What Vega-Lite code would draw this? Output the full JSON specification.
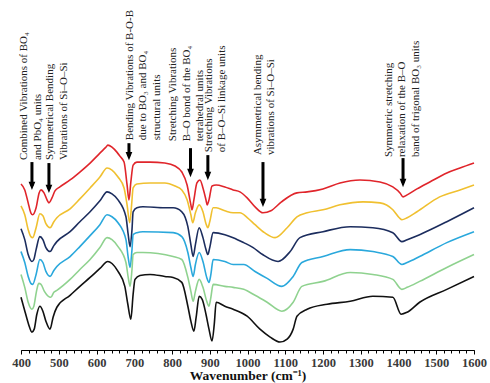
{
  "$schema": "https://vega.github.io/schema/vega-lite/v6.json",
  "width": 453,
  "height": 349,
  "autosize": {"type": "none"},
  "padding": {"left": 21, "top": 1, "right": 16, "bottom": 33},
  "config": {"view": {"stroke": null}},
  "datasets": {
    "spectra": [
      {"s": "G1", "w": 400, "t": 167}, {"s": "G1", "w": 410, "t": 161}, {"s": "G1", "w": 419, "t": 148}, {"s": "G1", "w": 426, "t": 138},
      {"s": "G1", "w": 431, "t": 136}, {"s": "G1", "w": 440, "t": 143}, {"s": "G1", "w": 448, "t": 158}, {"s": "G1", "w": 453, "t": 161},
      {"s": "G1", "w": 461, "t": 158}, {"s": "G1", "w": 469, "t": 151}, {"s": "G1", "w": 474, "t": 148}, {"s": "G1", "w": 482, "t": 153},
      {"s": "G1", "w": 490, "t": 160}, {"s": "G1", "w": 503, "t": 164}, {"s": "G1", "w": 530, "t": 171}, {"s": "G1", "w": 556, "t": 179},
      {"s": "G1", "w": 583, "t": 188}, {"s": "G1", "w": 609, "t": 198}, {"s": "G1", "w": 625, "t": 204}, {"s": "G1", "w": 630, "t": 206},
      {"s": "G1", "w": 641, "t": 204}, {"s": "G1", "w": 654, "t": 199}, {"s": "G1", "w": 662, "t": 195}, {"s": "G1", "w": 673, "t": 189},
      {"s": "G1", "w": 681, "t": 166}, {"s": "G1", "w": 686, "t": 151}, {"s": "G1", "w": 691, "t": 169}, {"s": "G1", "w": 697, "t": 186},
      {"s": "G1", "w": 707, "t": 189}, {"s": "G1", "w": 742, "t": 189}, {"s": "G1", "w": 781, "t": 188}, {"s": "G1", "w": 808, "t": 185},
      {"s": "G1", "w": 826, "t": 179}, {"s": "G1", "w": 840, "t": 166}, {"s": "G1", "w": 850, "t": 146}, {"s": "G1", "w": 853, "t": 141},
      {"s": "G1", "w": 858, "t": 151}, {"s": "G1", "w": 866, "t": 168}, {"s": "G1", "w": 874, "t": 171}, {"s": "G1", "w": 882, "t": 163},
      {"s": "G1", "w": 890, "t": 151}, {"s": "G1", "w": 893, "t": 146}, {"s": "G1", "w": 898, "t": 151}, {"s": "G1", "w": 906, "t": 165},
      {"s": "G1", "w": 917, "t": 166}, {"s": "G1", "w": 940, "t": 164}, {"s": "G1", "w": 962, "t": 161}, {"s": "G1", "w": 980, "t": 159},
      {"s": "G1", "w": 999, "t": 153}, {"s": "G1", "w": 1020, "t": 144}, {"s": "G1", "w": 1041, "t": 138}, {"s": "G1", "w": 1062, "t": 140},
      {"s": "G1", "w": 1090, "t": 149}, {"s": "G1", "w": 1131, "t": 158}, {"s": "G1", "w": 1158, "t": 159}, {"s": "G1", "w": 1200, "t": 162},
      {"s": "G1", "w": 1245, "t": 168}, {"s": "G1", "w": 1298, "t": 171}, {"s": "G1", "w": 1351, "t": 169}, {"s": "G1", "w": 1385, "t": 164},
      {"s": "G1", "w": 1404, "t": 158}, {"s": "G1", "w": 1412, "t": 154}, {"s": "G1", "w": 1423, "t": 156}, {"s": "G1", "w": 1449, "t": 162},
      {"s": "G1", "w": 1483, "t": 169}, {"s": "G1", "w": 1528, "t": 178}, {"s": "G1", "w": 1563, "t": 183}, {"s": "G1", "w": 1600, "t": 188},

      {"s": "G2", "w": 400, "t": 145}, {"s": "G2", "w": 410, "t": 136}, {"s": "G2", "w": 419, "t": 121}, {"s": "G2", "w": 426, "t": 114},
      {"s": "G2", "w": 431, "t": 113}, {"s": "G2", "w": 440, "t": 123}, {"s": "G2", "w": 450, "t": 137}, {"s": "G2", "w": 458, "t": 135},
      {"s": "G2", "w": 466, "t": 127}, {"s": "G2", "w": 477, "t": 123}, {"s": "G2", "w": 487, "t": 129}, {"s": "G2", "w": 495, "t": 133},
      {"s": "G2", "w": 530, "t": 142}, {"s": "G2", "w": 556, "t": 152}, {"s": "G2", "w": 583, "t": 163}, {"s": "G2", "w": 609, "t": 174},
      {"s": "G2", "w": 628, "t": 183}, {"s": "G2", "w": 641, "t": 181}, {"s": "G2", "w": 657, "t": 174}, {"s": "G2", "w": 673, "t": 163},
      {"s": "G2", "w": 681, "t": 146}, {"s": "G2", "w": 688, "t": 128}, {"s": "G2", "w": 693, "t": 146}, {"s": "G2", "w": 697, "t": 163},
      {"s": "G2", "w": 707, "t": 167}, {"s": "G2", "w": 742, "t": 168}, {"s": "G2", "w": 781, "t": 168}, {"s": "G2", "w": 808, "t": 165},
      {"s": "G2", "w": 826, "t": 161}, {"s": "G2", "w": 840, "t": 151}, {"s": "G2", "w": 850, "t": 136}, {"s": "G2", "w": 855, "t": 128},
      {"s": "G2", "w": 862, "t": 138}, {"s": "G2", "w": 872, "t": 146}, {"s": "G2", "w": 882, "t": 139}, {"s": "G2", "w": 890, "t": 127},
      {"s": "G2", "w": 895, "t": 123}, {"s": "G2", "w": 900, "t": 129}, {"s": "G2", "w": 909, "t": 143}, {"s": "G2", "w": 917, "t": 143},
      {"s": "G2", "w": 940, "t": 140}, {"s": "G2", "w": 962, "t": 138}, {"s": "G2", "w": 980, "t": 138}, {"s": "G2", "w": 1000, "t": 133},
      {"s": "G2", "w": 1020, "t": 126}, {"s": "G2", "w": 1045, "t": 118}, {"s": "G2", "w": 1073, "t": 113}, {"s": "G2", "w": 1105, "t": 123},
      {"s": "G2", "w": 1131, "t": 134}, {"s": "G2", "w": 1158, "t": 138}, {"s": "G2", "w": 1200, "t": 141}, {"s": "G2", "w": 1245, "t": 146},
      {"s": "G2", "w": 1306, "t": 149}, {"s": "G2", "w": 1351, "t": 148}, {"s": "G2", "w": 1385, "t": 141}, {"s": "G2", "w": 1402, "t": 133},
      {"s": "G2", "w": 1409, "t": 131}, {"s": "G2", "w": 1423, "t": 133}, {"s": "G2", "w": 1449, "t": 139}, {"s": "G2", "w": 1509, "t": 154},
      {"s": "G2", "w": 1563, "t": 161}, {"s": "G2", "w": 1600, "t": 166},

      {"s": "G3", "w": 400, "t": 122}, {"s": "G3", "w": 410, "t": 111}, {"s": "G3", "w": 419, "t": 96}, {"s": "G3", "w": 429, "t": 89},
      {"s": "G3", "w": 434, "t": 91}, {"s": "G3", "w": 440, "t": 101}, {"s": "G3", "w": 450, "t": 114}, {"s": "G3", "w": 458, "t": 111},
      {"s": "G3", "w": 466, "t": 103}, {"s": "G3", "w": 477, "t": 99}, {"s": "G3", "w": 487, "t": 105}, {"s": "G3", "w": 495, "t": 109},
      {"s": "G3", "w": 530, "t": 119}, {"s": "G3", "w": 556, "t": 129}, {"s": "G3", "w": 583, "t": 139}, {"s": "G3", "w": 609, "t": 150},
      {"s": "G3", "w": 628, "t": 159}, {"s": "G3", "w": 641, "t": 157}, {"s": "G3", "w": 657, "t": 151}, {"s": "G3", "w": 678, "t": 134},
      {"s": "G3", "w": 684, "t": 116}, {"s": "G3", "w": 689, "t": 104}, {"s": "G3", "w": 694, "t": 121}, {"s": "G3", "w": 697, "t": 139},
      {"s": "G3", "w": 707, "t": 143}, {"s": "G3", "w": 723, "t": 144}, {"s": "G3", "w": 781, "t": 143}, {"s": "G3", "w": 803, "t": 143},
      {"s": "G3", "w": 826, "t": 139}, {"s": "G3", "w": 842, "t": 124}, {"s": "G3", "w": 850, "t": 106}, {"s": "G3", "w": 856, "t": 94},
      {"s": "G3", "w": 862, "t": 106}, {"s": "G3", "w": 872, "t": 123}, {"s": "G3", "w": 882, "t": 113}, {"s": "G3", "w": 890, "t": 101},
      {"s": "G3", "w": 895, "t": 96}, {"s": "G3", "w": 900, "t": 103}, {"s": "G3", "w": 909, "t": 118}, {"s": "G3", "w": 940, "t": 116},
      {"s": "G3", "w": 962, "t": 113}, {"s": "G3", "w": 990, "t": 108}, {"s": "G3", "w": 1015, "t": 103}, {"s": "G3", "w": 1040, "t": 96},
      {"s": "G3", "w": 1081, "t": 89}, {"s": "G3", "w": 1113, "t": 99}, {"s": "G3", "w": 1139, "t": 113}, {"s": "G3", "w": 1200, "t": 119},
      {"s": "G3", "w": 1272, "t": 124}, {"s": "G3", "w": 1332, "t": 123}, {"s": "G3", "w": 1385, "t": 118}, {"s": "G3", "w": 1409, "t": 109},
      {"s": "G3", "w": 1423, "t": 111}, {"s": "G3", "w": 1456, "t": 116}, {"s": "G3", "w": 1528, "t": 129}, {"s": "G3", "w": 1600, "t": 143},

      {"s": "G4", "w": 400, "t": 99}, {"s": "G4", "w": 410, "t": 88}, {"s": "G4", "w": 419, "t": 74}, {"s": "G4", "w": 426, "t": 67},
      {"s": "G4", "w": 431, "t": 66}, {"s": "G4", "w": 440, "t": 76}, {"s": "G4", "w": 450, "t": 91}, {"s": "G4", "w": 458, "t": 88},
      {"s": "G4", "w": 466, "t": 79}, {"s": "G4", "w": 477, "t": 74}, {"s": "G4", "w": 487, "t": 80}, {"s": "G4", "w": 495, "t": 84},
      {"s": "G4", "w": 530, "t": 94}, {"s": "G4", "w": 556, "t": 104}, {"s": "G4", "w": 583, "t": 115}, {"s": "G4", "w": 609, "t": 126},
      {"s": "G4", "w": 628, "t": 136}, {"s": "G4", "w": 641, "t": 134}, {"s": "G4", "w": 657, "t": 128}, {"s": "G4", "w": 678, "t": 111},
      {"s": "G4", "w": 684, "t": 93}, {"s": "G4", "w": 689, "t": 83}, {"s": "G4", "w": 694, "t": 101}, {"s": "G4", "w": 697, "t": 116},
      {"s": "G4", "w": 707, "t": 118}, {"s": "G4", "w": 723, "t": 119}, {"s": "G4", "w": 803, "t": 118}, {"s": "G4", "w": 826, "t": 114},
      {"s": "G4", "w": 842, "t": 98}, {"s": "G4", "w": 850, "t": 83}, {"s": "G4", "w": 856, "t": 74}, {"s": "G4", "w": 862, "t": 86},
      {"s": "G4", "w": 872, "t": 98}, {"s": "G4", "w": 882, "t": 89}, {"s": "G4", "w": 892, "t": 73}, {"s": "G4", "w": 898, "t": 68},
      {"s": "G4", "w": 903, "t": 76}, {"s": "G4", "w": 909, "t": 91}, {"s": "G4", "w": 940, "t": 89}, {"s": "G4", "w": 962, "t": 86},
      {"s": "G4", "w": 990, "t": 86}, {"s": "G4", "w": 1020, "t": 79}, {"s": "G4", "w": 1052, "t": 72}, {"s": "G4", "w": 1091, "t": 64},
      {"s": "G4", "w": 1121, "t": 74}, {"s": "G4", "w": 1144, "t": 88}, {"s": "G4", "w": 1200, "t": 94}, {"s": "G4", "w": 1272, "t": 101},
      {"s": "G4", "w": 1332, "t": 99}, {"s": "G4", "w": 1385, "t": 94}, {"s": "G4", "w": 1409, "t": 86}, {"s": "G4", "w": 1423, "t": 88},
      {"s": "G4", "w": 1456, "t": 94}, {"s": "G4", "w": 1528, "t": 108}, {"s": "G4", "w": 1600, "t": 119},

      {"s": "G5", "w": 400, "t": 76}, {"s": "G5", "w": 410, "t": 63}, {"s": "G5", "w": 419, "t": 48}, {"s": "G5", "w": 429, "t": 41},
      {"s": "G5", "w": 434, "t": 44}, {"s": "G5", "w": 441, "t": 59}, {"s": "G5", "w": 447, "t": 67}, {"s": "G5", "w": 453, "t": 66},
      {"s": "G5", "w": 462, "t": 59}, {"s": "G5", "w": 479, "t": 53}, {"s": "G5", "w": 487, "t": 58}, {"s": "G5", "w": 495, "t": 60},
      {"s": "G5", "w": 530, "t": 71}, {"s": "G5", "w": 556, "t": 81}, {"s": "G5", "w": 583, "t": 91}, {"s": "G5", "w": 609, "t": 103},
      {"s": "G5", "w": 628, "t": 113}, {"s": "G5", "w": 641, "t": 111}, {"s": "G5", "w": 657, "t": 104}, {"s": "G5", "w": 678, "t": 88},
      {"s": "G5", "w": 684, "t": 73}, {"s": "G5", "w": 689, "t": 64}, {"s": "G5", "w": 694, "t": 81}, {"s": "G5", "w": 697, "t": 96},
      {"s": "G5", "w": 707, "t": 98}, {"s": "G5", "w": 723, "t": 98}, {"s": "G5", "w": 803, "t": 94}, {"s": "G5", "w": 826, "t": 91},
      {"s": "G5", "w": 842, "t": 73}, {"s": "G5", "w": 850, "t": 59}, {"s": "G5", "w": 856, "t": 49}, {"s": "G5", "w": 862, "t": 59},
      {"s": "G5", "w": 872, "t": 71}, {"s": "G5", "w": 882, "t": 63}, {"s": "G5", "w": 892, "t": 49}, {"s": "G5", "w": 898, "t": 44},
      {"s": "G5", "w": 903, "t": 53}, {"s": "G5", "w": 909, "t": 66}, {"s": "G5", "w": 940, "t": 64}, {"s": "G5", "w": 962, "t": 63},
      {"s": "G5", "w": 990, "t": 61}, {"s": "G5", "w": 1020, "t": 55}, {"s": "G5", "w": 1052, "t": 48}, {"s": "G5", "w": 1091, "t": 39},
      {"s": "G5", "w": 1121, "t": 48}, {"s": "G5", "w": 1144, "t": 64}, {"s": "G5", "w": 1200, "t": 69}, {"s": "G5", "w": 1272, "t": 78},
      {"s": "G5", "w": 1332, "t": 76}, {"s": "G5", "w": 1385, "t": 71}, {"s": "G5", "w": 1409, "t": 61}, {"s": "G5", "w": 1423, "t": 63},
      {"s": "G5", "w": 1456, "t": 69}, {"s": "G5", "w": 1528, "t": 83}, {"s": "G5", "w": 1600, "t": 96},

      {"s": "G6", "w": 400, "t": 53}, {"s": "G6", "w": 411, "t": 38}, {"s": "G6", "w": 420, "t": 26}, {"s": "G6", "w": 429, "t": 18},
      {"s": "G6", "w": 435, "t": 21}, {"s": "G6", "w": 442, "t": 36}, {"s": "G6", "w": 450, "t": 44}, {"s": "G6", "w": 458, "t": 39},
      {"s": "G6", "w": 466, "t": 29}, {"s": "G6", "w": 477, "t": 21}, {"s": "G6", "w": 485, "t": 33}, {"s": "G6", "w": 495, "t": 43},
      {"s": "G6", "w": 530, "t": 55}, {"s": "G6", "w": 556, "t": 64}, {"s": "G6", "w": 583, "t": 73}, {"s": "G6", "w": 609, "t": 82},
      {"s": "G6", "w": 630, "t": 89}, {"s": "G6", "w": 641, "t": 87}, {"s": "G6", "w": 657, "t": 79}, {"s": "G6", "w": 675, "t": 64},
      {"s": "G6", "w": 683, "t": 46}, {"s": "G6", "w": 691, "t": 31}, {"s": "G6", "w": 697, "t": 56}, {"s": "G6", "w": 702, "t": 71},
      {"s": "G6", "w": 715, "t": 75}, {"s": "G6", "w": 742, "t": 76}, {"s": "G6", "w": 781, "t": 74}, {"s": "G6", "w": 803, "t": 73},
      {"s": "G6", "w": 826, "t": 68}, {"s": "G6", "w": 842, "t": 44}, {"s": "G6", "w": 850, "t": 29}, {"s": "G6", "w": 858, "t": 19},
      {"s": "G6", "w": 864, "t": 33}, {"s": "G6", "w": 872, "t": 54}, {"s": "G6", "w": 880, "t": 51}, {"s": "G6", "w": 890, "t": 36},
      {"s": "G6", "w": 898, "t": 21}, {"s": "G6", "w": 906, "t": 9}, {"s": "G6", "w": 912, "t": 26}, {"s": "G6", "w": 917, "t": 48},
      {"s": "G6", "w": 940, "t": 44}, {"s": "G6", "w": 962, "t": 41}, {"s": "G6", "w": 999, "t": 34}, {"s": "G6", "w": 1033, "t": 21},
      {"s": "G6", "w": 1060, "t": 13}, {"s": "G6", "w": 1086, "t": 8}, {"s": "G6", "w": 1105, "t": 11}, {"s": "G6", "w": 1121, "t": 21},
      {"s": "G6", "w": 1131, "t": 34}, {"s": "G6", "w": 1158, "t": 41}, {"s": "G6", "w": 1211, "t": 46}, {"s": "G6", "w": 1272, "t": 49},
      {"s": "G6", "w": 1332, "t": 54}, {"s": "G6", "w": 1385, "t": 53}, {"s": "G6", "w": 1407, "t": 36}, {"s": "G6", "w": 1423, "t": 38},
      {"s": "G6", "w": 1456, "t": 48}, {"s": "G6", "w": 1528, "t": 61}, {"s": "G6", "w": 1600, "t": 74}
    ],
    "bands": [
      {"w": 429, "top": 189, "head": 165, "lw": 393, "lt": 191, "label": ["Combined Vibrations of BO₄", "and PbO₄ units"]},
      {"w": 474, "top": 188, "head": 162, "lw": 462, "lt": 191, "label": ["Symmetrical Bending", "Vibrations of Si–O–Si"]},
      {"w": 686, "top": 208, "head": 195, "lw": 672, "lt": 211, "label": ["Bending Vibrations of B-O-B", "due to BO₃ and BO₄", "structural units"]},
      {"w": 849, "top": 203, "head": 178, "lw": 788, "lt": 210, "label": ["Stretching Vibrations", "B–O bond of the BO₄", "tetrahedral units"]},
      {"w": 895, "top": 196, "head": 175, "lw": 881, "lt": 199, "label": ["Stretching Vibrations", "of  B–O–Si linkage units"]},
      {"w": 1041, "top": 189, "head": 148, "lw": 1011, "lt": 196, "label": ["Asymmetrical bending", "vibrations of Si–O–Si"]},
      {"w": 1412, "top": 193, "head": 168, "lw": 1358, "lt": 194, "label": ["Symmetric stretching", "relaxation of the B–O", "band of trigonal BO₃ units"]}
    ]
  },
  "layer": [
    {
      "data": {"name": "spectra"},
      "mark": {"type": "line", "strokeWidth": 1.6, "interpolate": "monotone", "clip": false},
      "encoding": {
        "x": {
          "field": "w", "type": "quantitative",
          "scale": {"domain": [400, 1600], "nice": false, "zero": false},
          "axis": {
            "orient": "bottom", "tickCount": 12, "format": "d", "grid": false, "labelFlush": false, "labelOverlap": false,
            "domainColor": "#000", "domainWidth": 1.2, "tickColor": "#000", "tickSize": 4, "tickWidth": 1,
            "labelFont": "Liberation Serif", "labelFontSize": 12.5, "labelFontWeight": "bold", "labelColor": "#3a3a3a", "labelPadding": 2,
            "title": "Wavenumber (cm⁻¹)", "titleFont": "Liberation Serif", "titleFontSize": 13.5, "titleFontWeight": "bold",
            "titleColor": "#111", "titlePadding": 0
          }
        },
        "y": {"field": "t", "type": "quantitative", "scale": {"domain": [0, 351], "zero": false, "nice": false}, "axis": null},
        "color": {
          "field": "s", "type": "nominal", "legend": null,
          "scale": {"domain": ["G1", "G2", "G3", "G4", "G5", "G6"], "range": ["#e0252b", "#f0c030", "#1c2d5e", "#2aa8dc", "#8fd28f", "#111111"]}
        }
      }
    },
    {
      "data": {"name": "bands"},
      "mark": {"type": "rule", "strokeWidth": 3, "color": "#000"},
      "encoding": {
        "x": {
          "field": "w", "type": "quantitative",
          "axis": {"orient": "bottom", "tickCount": 60, "labels": false, "domain": false, "grid": false, "title": null, "tickSize": 3, "tickColor": "#000"}
        },
        "y": {"field": "top", "type": "quantitative", "axis": null},
        "y2": {"field": "head"}
      }
    },
    {
      "data": {"name": "bands"},
      "mark": {"type": "point", "shape": "M-0.8,-1L0.8,-1L0,1Z", "filled": true, "size": 70, "color": "#000", "opacity": 1},
      "encoding": {
        "x": {"field": "w", "type": "quantitative", "axis": null},
        "y": {"field": "head", "type": "quantitative", "axis": null}
      }
    },
    {
      "data": {"name": "bands"},
      "mark": {"type": "text", "angle": 270, "align": "left", "baseline": "top", "font": "Liberation Serif", "fontSize": 11, "lineHeight": 13.5, "color": "#222", "clip": false},
      "encoding": {
        "x": {"field": "lw", "type": "quantitative", "axis": null},
        "y": {"field": "lt", "type": "quantitative", "axis": null},
        "text": {"field": "label"}
      }
    }
  ],
  "resolve": {"axis": {"x": "independent"}}
}
